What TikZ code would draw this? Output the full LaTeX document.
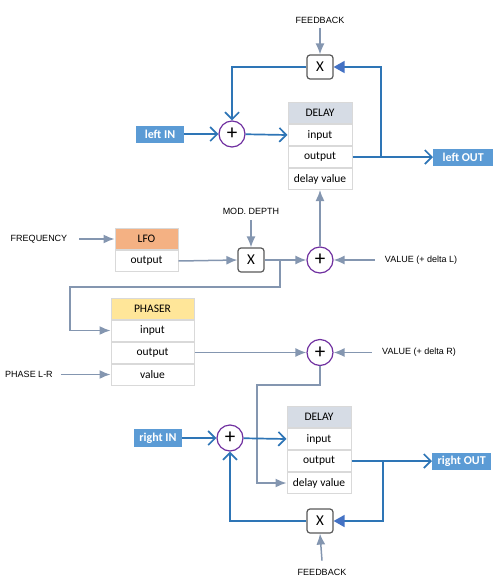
\documentclass[tikz,border=0pt]{standalone}
\usepackage{fontspec}
\setmainfont{Carlito}
\newfontfamily\lblfont{Liberation Sans}
\usetikzlibrary{arrows.meta}
\definecolor{wire}{HTML}{2E75B6}
\definecolor{ctrl}{HTML}{8496B0}
\definecolor{iofill}{HTML}{5B9BD5}
\definecolor{tipblue}{HTML}{4472C4}
\definecolor{delhead}{HTML}{D6DCE5}
\definecolor{lfohead}{HTML}{F4B183}
\definecolor{phahead}{HTML}{FFE699}
\definecolor{sumline}{HTML}{7030A0}
\definecolor{rowline}{HTML}{D9D9D9}
\begin{document}
\begin{tikzpicture}[x=1pt,y=-1pt,
	lbl/.style={font=\lblfont\fontsize{9}{10}\selectfont,inner sep=0pt},
	iobox/.style={fill=iofill,text=white,font=\bfseries\fontsize{12}{12}\selectfont,minimum height=17pt,inner sep=0pt},
	row/.style={draw=rowline,line width=1pt,fill=white,minimum height=21pt,inner sep=0pt,font=\fontsize{11.5}{12}\selectfont},
	sumnode/.style={circle,draw=sumline,line width=1.2pt,fill=white,minimum size=26pt,inner sep=0pt,font=\fontsize{21}{21}\selectfont},
	mulnode/.style={draw=black!65,line width=1.2pt,rounded corners=3pt,fill=white,minimum width=26pt,minimum height=24pt,inner sep=0pt,font=\fontsize{15}{15}\selectfont},
	sig/.style={wire,line width=1.7pt},
	mod/.style={ctrl,line width=1.5pt},
	open/.style={-{Straight Barb[length=7pt,width=14pt,line width=1.7pt]}},
	back/.style={-{Triangle[length=11pt,width=12pt,color=tipblue]}},
	gtip/.style={-{Latex[length=11pt,width=9pt]}}]
	\useasboundingbox (0,0) rectangle (500,587);
	
	% left channel
	\node[lbl] (fbT) at (320,20) {FEEDBACK};
	\node[mulnode] (mulT) at (320,67) {X};
	\node[sumnode] (sumT) at (232,134) {+};
	\node[iobox,minimum width=48pt] (inL) at (160,134) {left IN};
	\node[row,fill=delhead,minimum width=64pt] (delT) at (320,113) {DELAY};
	\node[row,minimum width=64pt,anchor=north] (delTin) at (delT.south) {input};
	\node[row,minimum width=64pt,anchor=north] (delTout) at (delTin.south) {output};
	\node[row,minimum width=64pt,anchor=north] (delTval) at (delTout.south) {delay value};
	\node[iobox,minimum width=60pt,anchor=west] (outL) at (delTout.east -| 433,0) {left OUT};
	\coordinate (brT) at (delTout.east -| 381,0);
	
	\draw[mod,gtip] (fbT.south)++(0,5) -- (mulT.north);
	\draw[sig,open] (mulT.west) -| (sumT.north);
	\draw[sig,open] (inL) -- (sumT);
	\draw[sig,open] (sumT) -- (delTin.west);
	\draw[sig,open] (delTout.east) -- (outL.west);
	\draw[sig,back] (brT) |- (mulT.east);
	
	% modulation
	\node[lbl] (modd) at (251,211) {MOD. DEPTH};
	\node[mulnode] (mulM) at (251,260) {X};
	\node[row,fill=lfohead,minimum width=63pt] (lfo) at (146.5,239) {LFO};
	\node[row,minimum width=63pt,anchor=north] (lfoout) at (lfo.south) {output};
	\node[lbl] (freq) at (lfo.west -| 39,0) {FREQUENCY};
	\node[sumnode] (sumM) at (320,260) {+};
	\node[lbl] (valL) at (421,260) {VALUE (+ delta L)};
	\coordinate (brM) at (280,260);
	
	\draw[mod,gtip] (freq.east)++(12,0) -- (lfo.west);
	\draw[mod,gtip] (modd.south)++(0,6) -- (mulM.north);
	\draw[mod,gtip] (lfoout.east) -- (mulM.west);
	\draw[mod,gtip] (mulM.east) -- (sumM.west);
	\draw[mod,gtip] (valL.west)++(-10,0) -- (sumM.east);
	\draw[mod,gtip] (sumM.north) -- (delTval.south);
	
	% phaser
	\node[row,fill=phahead,minimum width=83pt] (pha) at (152.5,308.5) {PHASER};
	\node[row,minimum width=83pt,anchor=north] (phain) at (pha.south) {input};
	\node[row,minimum width=83pt,anchor=north] (phaout) at (phain.south) {output};
	\node[row,minimum width=83pt,anchor=north] (phaval) at (phaout.south) {value};
	\node[lbl] (phlr) at (phaval.west -| 29,0) {PHASE L-R};
	\node[sumnode] (sumR) at (phaout.east -| 320,0) {+};
	\node[lbl] (valR) at (phaout.east -| 419,0) {VALUE (+ delta R)};
	
	\draw[mod,gtip] (brM) -- (280,287) -| (70,329.5) |- (phain.west);
	\draw[mod,gtip] (phlr.east)++(8,0) -- (phaval.west);
	\draw[mod,gtip] (phaout.east) -- (sumR.west);
	\draw[mod,gtip] (valR.west)++(-10,0) -- (sumR.east);
	
	% right channel
	\node[iobox,minimum width=48pt,minimum height=18pt] (inR) at (158,438) {right IN};
	\node[sumnode] (sumB) at (230,438) {+};
	\node[row,fill=delhead,minimum width=64pt] (delB) at (319,417) {DELAY};
	\node[row,minimum width=64pt,anchor=north] (delBin) at (delB.south) {input};
	\node[row,minimum width=64pt,anchor=north] (delBout) at (delBin.south) {output};
	\node[row,minimum width=64pt,anchor=north] (delBval) at (delBout.south) {delay value};
	\node[iobox,minimum width=59pt,anchor=west] (outR) at (delBout.east -| 432,0) {right OUT};
	\node[mulnode] (mulB) at (320,521) {X};
	\node[lbl] (fbB) at (322,572) {FEEDBACK};
	\coordinate (brB) at (delBout.east -| 383,0);
	
	\draw[mod,gtip] (sumR.south) |- (257,385) |- (delBval.west);
	\draw[sig,open] (inR) -- (sumB);
	\draw[sig,open] (sumB) -- (delBin.west);
	\draw[sig,open] (delBout.east) -- (outR.west);
	\draw[sig,back] (brB) |- (mulB.east);
	\draw[sig,open] (mulB.west) -| (sumB.south);
	\draw[mod,gtip] (fbB.north)++(0,-8) -- (mulB.south);
	
\end{tikzpicture}
\end{document}
